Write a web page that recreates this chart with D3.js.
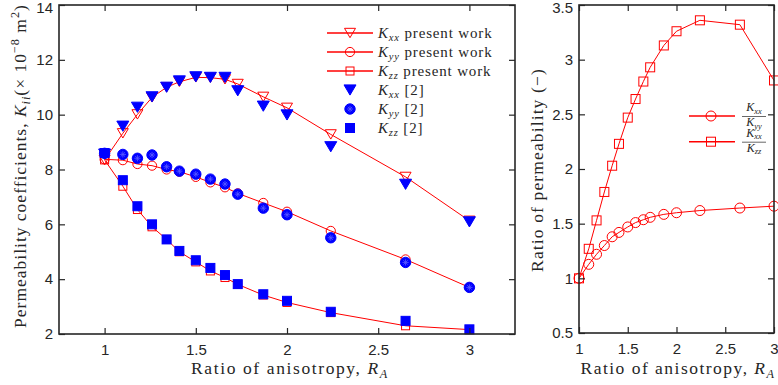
<!DOCTYPE html>
<html>
<head>
<meta charset="utf-8">
<script src="https://cdn.jsdelivr.net/npm/d3@7"></script>
<style>
  body { margin: 0; background: #fff; }
  svg { display: block; }
  .tick text { font-family: "Liberation Sans", Arial, sans-serif; font-size: 15px; fill: #262626; }
  .lbl { font-family: "Liberation Serif", "DejaVu Serif", serif; fill: #262626; }
</style>
</head>
<body>
<div id="chart"></div>
<script>
// ratio of anisotropy R_A (shared by all series)
const ratioA = [1, 1.10, 1.18, 1.26, 1.34, 1.41, 1.5, 1.58, 1.66, 1.73, 1.87, 2, 2.24, 2.65, 3];

// present work
const kxxPresent = [8.35, 9.32, 10.01, 10.63, 11.0, 11.2, 11.36, 11.35, 11.29, 11.12, 10.65, 10.25, 9.28, 7.73, 6.13];
const kyyPresent = [8.37, 8.34, 8.20, 8.14, 8.0, 7.92, 7.73, 7.53, 7.35, 7.13, 6.78, 6.46, 5.76, 4.72, 3.70];
const kzzPresent = [8.35, 7.39, 6.54, 5.91, 5.45, 5.0, 4.63, 4.30, 4.06, 3.81, 3.42, 3.15, 2.78, 2.30, 2.16];

// reference [2]
const kxxRef = [8.56, 9.58, 10.27, 10.65, 11.0, 11.23, 11.38, 11.36, 11.36, 10.87, 10.31, 9.99, 8.83, 7.46, 6.09];
const kyyRef = [8.59, 8.55, 8.41, 8.53, 8.10, 7.94, 7.83, 7.65, 7.47, 7.10, 6.59, 6.35, 5.51, 4.61, 3.70];
const kzzRef = [8.6, 7.61, 6.66, 6.0, 5.45, 5.03, 4.69, 4.41, 4.15, 3.82, 3.45, 3.21, 2.81, 2.48, 2.17];

// ratios of permeability
const ratioXY = [1.0, 1.128, 1.22, 1.30, 1.38, 1.42, 1.47, 1.51, 1.536, 1.558, 1.585, 1.60, 1.62, 1.643, 1.66];
const ratioXZ = [1.0, 1.27, 1.53, 1.79, 2.03, 2.23, 2.47, 2.64, 2.80, 2.93, 3.13, 3.26, 3.36, 3.32, 2.81];

const leftTicksX = [1, 1.5, 2, 2.5, 3];
const leftTicksY = [2, 4, 6, 8, 10, 12, 14];
const rightTicksX = [1, 1.5, 2, 2.5, 3];
const rightTicksY = [0.5, 1, 1.5, 2, 2.5, 3, 3.5];

const RED = "#ff0000", BLUE = "#0000ff", INK = "#262626";

const svg = d3.select("#chart").append("svg")
    .attr("width", 778)
    .attr("height", 385);

// marker drawing helpers
function triDown(g, x, y, s, fill, stroke) {
    const h = s * 0.85;
    g.append("path")
        .attr("d", `M${x - s / 2},${y - h / 2}L${x + s / 2},${y - h / 2}L${x},${y + h / 2}Z`)
        .attr("fill", fill).attr("stroke", stroke).attr("stroke-width", 1);
}
function square(g, x, y, s, fill, stroke) {
    g.append("rect").attr("x", x - s / 2).attr("y", y - s / 2)
        .attr("width", s).attr("height", s)
        .attr("fill", fill).attr("stroke", stroke).attr("stroke-width", 1);
}
function circle(g, x, y, r, fill, stroke) {
    g.append("circle").attr("cx", x).attr("cy", y).attr("r", r)
        .attr("fill", fill).attr("stroke", stroke).attr("stroke-width", 1);
}
function starCircle(g, x, y, r) {
    circle(g, x, y, r, BLUE, BLUE);
    const a = r * 0.6;
    let d = `M${x - a},${y}L${x + a},${y}M${x},${y - a}L${x},${y + a}`;
    const b = a * 0.7;
    d += `M${x - b},${y - b}L${x + b},${y + b}M${x - b},${y + b}L${x + b},${y - b}`;
    g.append("path").attr("d", d).attr("stroke", "#5a5aff").attr("stroke-width", 0.8);
}

function frame(g, x, y, w, h, xTicks, yTicks) {
    g.append("g").attr("transform", `translate(0,${h})`)
        .call(d3.axisBottom(x).tickValues(xTicks).tickSizeInner(-6).tickSizeOuter(0).tickPadding(10).tickFormat(d3.format("")));
    g.append("g").call(d3.axisTop(x).tickValues(xTicks).tickSizeInner(-6).tickSizeOuter(0).tickFormat(""));
    const ya = g.append("g").call(d3.axisLeft(y).tickValues(yTicks).tickSizeInner(-6).tickSizeOuter(0).tickPadding(6).tickFormat(d3.format("")));
    g.append("g").attr("transform", `translate(${w},0)`)
        .call(d3.axisRight(y).tickValues(yTicks).tickSizeInner(-6).tickSizeOuter(0).tickFormat(""));
    g.selectAll(".domain").remove();
    g.selectAll(".tick line").attr("stroke", INK).attr("stroke-width", 1.2);
    // keep the top tick label inside the page
    ya.selectAll(".tick text").filter(d => d === yTicks[yTicks.length - 1]).attr("dy", "0.5em");
    g.append("rect").attr("width", w).attr("height", h)
        .attr("fill", "none").attr("stroke", INK).attr("stroke-width", 1.6);
}

// italic K with italic subscript, then plain rest
function kText(sel, sub, rest) {
    sel.append("tspan").attr("font-style", "italic").text("K");
    sel.append("tspan").attr("font-style", "italic").style("font-size", "0.7em").attr("dy", "0.3em").text(sub);
    if (rest) sel.append("tspan").attr("dy", "-0.21em").text(rest);
}

// widen a label with letter spacing so it spans the same length as in the picture
function fit(sel, target) {
    const w = sel.node().getBBox().width;
    const n = sel.text().length;
    const ls = Math.max(0, (target - w) / n);
    sel.style("letter-spacing", ls + "px");
    return ls;
}

// ---------------- left chart ----------------
const L = { x: 59, y: 5, w: 456, h: 329 };
const gL = svg.append("g").attr("transform", `translate(${L.x},${L.y})`);
const xL = d3.scaleLinear().domain([0.75, 3.25]).range([0, L.w]);
const yL = d3.scaleLinear().domain([2, 14]).range([L.h, 0]);

const line = d3.line().x(d => xL(d[0])).y(d => yL(d[1]));
const present = [
    { vals: kxxPresent, mk: (g, x, y) => triDown(g, x, y, 11, "none", RED) },
    { vals: kyyPresent, mk: (g, x, y) => circle(g, x, y, 4.6, "none", RED) },
    { vals: kzzPresent, mk: (g, x, y) => square(g, x, y, 8, "none", RED) }
];
present.forEach(s => {
    const pts = ratioA.map((r, i) => [r, s.vals[i]]);
    gL.append("path").datum(pts).attr("d", line)
        .attr("fill", "none").attr("stroke", RED).attr("stroke-width", 1);
    pts.forEach(p => s.mk(gL, xL(p[0]), yL(p[1])));
});
const refs = [
    { vals: kxxRef, mk: (g, x, y) => triDown(g, x, y, 12, BLUE, BLUE) },
    { vals: kyyRef, mk: (g, x, y) => starCircle(g, x, y, 5.2) },
    { vals: kzzRef, mk: (g, x, y) => square(g, x, y, 9, BLUE, BLUE) }
];
refs.forEach(s => {
    ratioA.forEach((r, i) => s.mk(gL, xL(r), yL(s.vals[i])));
});

frame(gL, xL, yL, L.w, L.h, leftTicksX, leftTicksY);

// left legend
const legL = svg.append("g").attr("transform", "translate(327,33)");
const legRows = [
    { sub: "xx", rest: " present work", line: true, mk: present[0].mk },
    { sub: "yy", rest: " present work", line: true, mk: present[1].mk },
    { sub: "zz", rest: " present work", line: true, mk: present[2].mk },
    { sub: "xx", rest: " [2]", line: false, mk: refs[0].mk },
    { sub: "yy", rest: " [2]", line: false, mk: refs[1].mk },
    { sub: "zz", rest: " [2]", line: false, mk: refs[2].mk }
];
let legLs = null;
legRows.forEach((r, i) => {
    const yy = i * 19;
    if (r.line) legL.append("line").attr("x1", 0).attr("x2", 46).attr("y1", yy).attr("y2", yy)
        .attr("stroke", RED).attr("stroke-width", 1.6);
    r.mk(legL, 23, yy);
    const t = legL.append("text").attr("class", "lbl").attr("x", 51).attr("y", yy + 5)
        .style("font-size", "15px");
    kText(t, r.sub, r.rest);
    if (legLs === null) legLs = fit(t, 116);
    else t.style("letter-spacing", legLs + "px");
});

// left axis labels
const xlabL = svg.append("text").attr("class", "lbl").attr("x", 290).attr("y", 374)
    .attr("text-anchor", "middle").style("font-size", "17.5px");
xlabL.append("tspan").text("Ratio of anisotropy,  ");
xlabL.append("tspan").attr("font-style", "italic").text("R");
xlabL.append("tspan").attr("font-style", "italic").style("font-size", "0.7em").attr("dy", "0.3em").text("A");
fit(xlabL, 200);

const ylabL = svg.append("text").attr("class", "lbl")
    .attr("transform", "translate(26,166) rotate(-90)")
    .attr("text-anchor", "middle").style("font-size", "17.5px");
ylabL.append("tspan").text("Permeability coefficients,  ");
ylabL.append("tspan").attr("font-style", "italic").text("K");
ylabL.append("tspan").attr("font-style", "italic").style("font-size", "0.7em").attr("dy", "0.3em").text("ii");
ylabL.append("tspan").attr("dy", "-0.21em").text("(× 10");
ylabL.append("tspan").style("font-size", "0.7em").attr("dy", "-0.6em").text("−8");
ylabL.append("tspan").attr("dy", "0.42em").text(" m");
ylabL.append("tspan").style("font-size", "0.7em").attr("dy", "-0.6em").text("2");
ylabL.append("tspan").attr("dy", "0.42em").text(")");
fit(ylabL, 325);

// ---------------- right chart ----------------
const R = { x: 579, y: 5, w: 195, h: 328 };
const gR = svg.append("g").attr("transform", `translate(${R.x},${R.y})`);
const xR = d3.scaleLinear().domain([1, 3]).range([0, R.w]);
const yR = d3.scaleLinear().domain([0.5, 3.5]).range([R.h, 0]);
const lineR = d3.line().x(d => xR(d[0])).y(d => yR(d[1]));

const ratios = [
    { vals: ratioXY, mk: (g, x, y) => circle(g, x, y, 5, "none", RED) },
    { vals: ratioXZ, mk: (g, x, y) => square(g, x, y, 9, "none", RED) }
];
const dataR = gR.append("g");
ratios.forEach(s => {
    const pts = ratioA.map((r, i) => [r, s.vals[i]]);
    dataR.append("path").datum(pts).attr("d", lineR)
        .attr("fill", "none").attr("stroke", RED).attr("stroke-width", 1);
    pts.forEach(p => s.mk(dataR, xR(p[0]), yR(p[1])));
});
frame(gR, xR, yR, R.w, R.h, rightTicksX, rightTicksY);

// right legend
const legR = svg.append("g").attr("transform", "translate(689,116)");
[{ den: "yy", mk: ratios[0].mk }, { den: "zz", mk: ratios[1].mk }].forEach((r, i) => {
    const yy = i * 25.7;
    legR.append("line").attr("x1", 0).attr("x2", 46).attr("y1", yy).attr("y2", yy)
        .attr("stroke", RED).attr("stroke-width", 1.6);
    r.mk(legR, 22, yy);
    const num = legR.append("text").attr("class", "lbl").attr("x", 65).attr("y", yy - 5)
        .attr("text-anchor", "middle").style("font-size", "12px");
    kText(num, "xx", null);
    legR.append("line").attr("x1", 53).attr("x2", 77).attr("y1", yy + 0.5).attr("y2", yy + 0.5)
        .attr("stroke", INK).attr("stroke-width", 0.7);
    const den = legR.append("text").attr("class", "lbl").attr("x", 65).attr("y", yy + 10)
        .attr("text-anchor", "middle").style("font-size", "12px");
    kText(den, r.den, null);
});

// right axis labels
const xlabR = svg.append("text").attr("class", "lbl").attr("x", 678).attr("y", 374)
    .attr("text-anchor", "middle").style("font-size", "17.5px");
xlabR.append("tspan").text("Ratio of anisotropy,  ");
xlabR.append("tspan").attr("font-style", "italic").text("R");
xlabR.append("tspan").attr("font-style", "italic").style("font-size", "0.7em").attr("dy", "0.3em").text("A");
fit(xlabR, 197);

const ylabR = svg.append("text").attr("class", "lbl")
    .attr("transform", "translate(543,170) rotate(-90)")
    .attr("text-anchor", "middle").style("font-size", "17.5px")
    .text("Ratio of permeability (−)");
fit(ylabR, 204);
</script>
</body>
</html>
